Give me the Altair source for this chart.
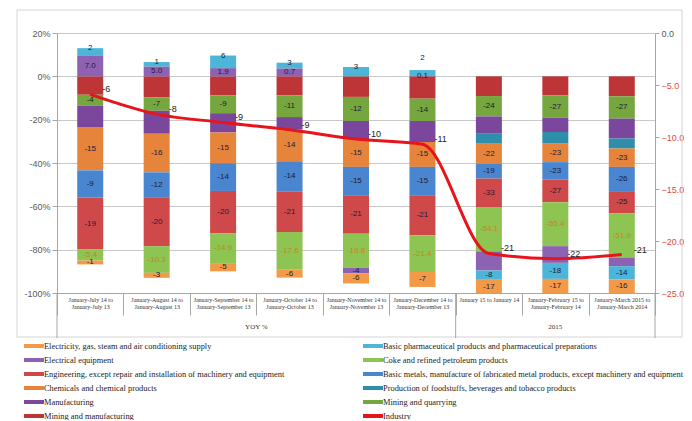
import altair as alt
import pandas as pd

periods = [
    "January-July 14 to|January-July 13",
    "January-August 14 to|January-August 13",
    "January-September 14 to|January-September 13",
    "January-October 14 to|January-October 13",
    "January-November 14 to|January-November 13",
    "January-December 14 to|January-December 13",
    "January 15 to January 14",
    "January-February 15 to|January-February 14",
    "January-March 2015 to|January-March 2014",
]

# stacking order, from the zero line outwards
stack_order = [
    "Mining and manufacturing",
    "Mining and quarrying",
    "Manufacturing",
    "Production of foodstuffs, beverages and tobacco products",
    "Chemicals and chemical products",
    "Basic metals, manufacture of fabricated metal products, except machinery and equipment",
    "Engineering, except repair and installation of machinery and equipment",
    "Coke and refined petroleum products",
    "Electrical equipment",
    "Basic pharmaceutical products and pharmaceutical preparations",
    "Electricity, gas, steam and air conditioning supply",
]

# share of each bar (%)
share_mm = [-8.5, -9.7, -8.8, -8.8, -9.5, -10.3, -9.1, -8.8, -9.2]
share_mq = [-5.1, -6.2, -8.2, -10.0, -11.1, -10.3, -9.4, -10.3, -10.3]
share_manuf = [-9.8, -10.6, -8.9, -5.8, -8.6, -9.7, -7.7, -6.6, -9.2]
share_food = [None, None, None, None, None, None, -4.9, -5.1, -4.6]
share_chem = [-20.0, -17.8, -14.2, -14.6, -12.6, -11.5, -9.2, -8.8, -8.5]
share_metals = [-12.6, -11.8, -12.8, -13.8, -13.1, -13.1, -6.9, -8.0, -11.2]
share_eng = [-23.9, -22.3, -19.5, -18.9, -17.7, -18.5, -13.1, -10.5, -10.3]
share_coke = [-5.1, -12.3, -13.8, -17.2, -15.8, -16.9, -20.5, -20.3, -20.5]
share_eleq = [9.4, 4.6, 3.8, 3.7, -2.6, 0.1, -8.8, -7.7, -3.8]
share_pharma = [3.6, 2.0, 5.8, 2.6, 4.3, 2.8, -4.3, -7.4, -6.2]
share_elec = [-1.8, -2.3, -3.8, -3.8, -4.6, -6.9, -6.2, -6.5, -6.2]

# printed value labels
lab_mm = [""] * 9
lab_mq = ["-4", "-7", "-9", "-11", "-12", "-14", "-24", "-27", "-27"]
lab_manuf = [""] * 9
lab_food = [""] * 9
lab_chem = ["-15", "-16", "-15", "-14", "-15", "-15", "-22", "-23", "-23"]
lab_metals = ["-9", "-12", "-14", "-14", "-15", "-15", "-19", "-23", "-26"]
lab_eng = ["-19", "-20", "-20", "-21", "-21", "-21", "-33", "-27", "-25"]
lab_coke = ["-5.4", "-10.3", "-14.9", "-17.6", "-19.8", "-21.4", "-54.1", "-55.4", "-51.9"]
lab_eleq = ["7.0", "5.0", "1.9", "0.7", "-4", "0.1", "", "", ""]
lab_pharma = ["2", "1", "6", "3", "3", "2", "-8", "-18", "-14"]
lab_elec = ["-1", "-3", "-5", "-6", "-6", "-7", "-17", "-17", "-16"]

shares = [share_mm, share_mq, share_manuf, share_food, share_chem, share_metals,
          share_eng, share_coke, share_eleq, share_pharma, share_elec]
labels = [lab_mm, lab_mq, lab_manuf, lab_food, lab_chem, lab_metals,
          lab_eng, lab_coke, lab_eleq, lab_pharma, lab_elec]

industry = [-5.9, -7.8, -8.6, -9.3, -10.2, -10.7, -21.2, -21.7, -21.3]
industry_labels = ["-6", "-8", "-9", "-9", "-10", "-11", "-21", "-22", "-21"]

legend_order = [
    "Electricity, gas, steam and air conditioning supply",
    "Basic pharmaceutical products and pharmaceutical preparations",
    "Electrical equipment",
    "Coke and refined petroleum products",
    "Engineering, except repair and installation of machinery and equipment",
    "Basic metals, manufacture of fabricated metal products, except machinery and equipment",
    "Chemicals and chemical products",
    "Production of foodstuffs, beverages and tobacco products",
    "Manufacturing",
    "Mining and quarrying",
    "Mining and manufacturing",
    "Industry",
]
legend_colors = [
    "#F39A48", "#4DB6D8", "#8E62B2", "#8DC452", "#D0494A", "#4A85D0",
    "#E5843A", "#2F8EAA", "#7A479C", "#76A63E", "#BE3538", "#E8141B",
]

group_names = ["YOY %", "2015"]

rows = []
for k, s in enumerate(stack_order):
    for i, p in enumerate(periods):
        v = shares[k][i]
        if v is None:
            continue
        rows.append({"period": p, "series": s, "ord": k, "share": v, "label": labels[k][i]})
df = pd.DataFrame(rows)

line_df = pd.DataFrame({"period": periods, "industry": industry, "ilabel": industry_labels})

SERIF = "Liberation Serif"
SANS = "Liberation Sans"
PHARMA = "Basic pharmaceutical products and pharmaceutical preparations"
COKE = "Coke and refined petroleum products"

x_axis = alt.Axis(
    title=None, labelExpr="split(datum.label, '|')", labelAngle=0,
    labelFont=SERIF, labelFontSize=6, labelColor="#333333", labelLineHeight=7,
    labelLimit=80, tickBand="extent", tickSize=22, labelPadding=-19,
    tickColor="#A6A6A6", domainColor="#A6A6A6",
)
x_enc = alt.X("period:N", sort=periods, scale=alt.Scale(paddingInner=0, paddingOuter=0), axis=x_axis)
x_plain = alt.X("period:N", sort=periods)

y_scale = alt.Scale(domain=[-100, 20], nice=False, zero=False)

base = alt.Chart(df).transform_stack(
    stack="share", groupby=["period"], as_=["y0", "y1"],
    sort=[alt.SortField("ord", order="ascending")],
).transform_calculate(mid="(datum.y0 + datum.y1) / 2")

bars = base.mark_bar(size=26).encode(
    x=x_enc,
    y=alt.Y("y0:Q", scale=y_scale, axis=alt.Axis(
        title=None, values=[20, 0, -20, -40, -60, -80, -100], labelExpr="datum.value + '%'",
        grid=True, gridColor="#C8C8C8", domainColor="#A6A6A6", tickColor="#A6A6A6",
        labelColor="#595959", labelFont=SANS, labelFontSize=9, tickSize=5)),
    y2="y1:Q",
    color=alt.Color("series:N", scale=alt.Scale(domain=legend_order, range=legend_colors),
                    legend=alt.Legend(
                        title=None, orient="none", legendX=-33, legendY=306, columns=2,
                        direction="horizontal", columnPadding=78, rowPadding=0, clipHeight=13.8,
                        symbolType="M-1,-0.2H1V0.2H-1Z", symbolSize=400, symbolStrokeWidth=0,
                        labelFont=SERIF, labelFontSize=8.4, labelColor="#222222", labelLimit=400,
                        labelOffset=0)),
)

special = f"datum.series == '{PHARMA}' && datum.period == '" + periods[5] + "'"
top_pharma = f"datum.series == '{PHARMA}' && datum.share > 0 && !({special})"

dark_labels = base.transform_filter(
    f"datum.label != '' && datum.series != '{COKE}' && !({top_pharma}) && !({special})"
).mark_text(font=SANS, fontSize=8, color="#1B1B3A").encode(
    x=x_plain, y=alt.Y("mid:Q", scale=y_scale), text="label:N")

pharma_labels = base.transform_filter(top_pharma).mark_text(
    font=SANS, fontSize=8, color="#1B1B3A", baseline="bottom", dy=4).encode(
    x=x_plain, y=alt.Y("y1:Q", scale=y_scale), text="label:N")

coke_labels = base.transform_filter(f"datum.series == '{COKE}'").mark_text(
    font=SANS, fontSize=8, color="#C8841E").encode(
    x=x_plain, y=alt.Y("mid:Q", scale=y_scale), text="label:N")

top_label = base.transform_filter(special).mark_text(
    font=SANS, fontSize=8, color="#1B1B3A", dy=-12).encode(
    x=x_plain, y=alt.Y("y1:Q", scale=y_scale), text="label:N")

sep_df = pd.DataFrame({"period": [periods[0], periods[6]]})
sep_start = alt.Chart(sep_df).mark_rule(color="#A6A6A6").encode(
    x=alt.X("period:N", sort=periods, bandPosition=0), y=alt.value(260), y2=alt.value(305))
sep_end = alt.Chart(pd.DataFrame({"period": [periods[8]]})).mark_rule(color="#A6A6A6").encode(
    x=alt.X("period:N", sort=periods, bandPosition=1), y=alt.value(260), y2=alt.value(305))

g1 = alt.Chart(pd.DataFrame({"period": [periods[3]], "g": [group_names[0]]})).mark_text(
    font=SERIF, fontSize=7, color="#333333").encode(
    x=alt.X("period:N", sort=periods, bandPosition=0), y=alt.value(294), text="g:N")
g2 = alt.Chart(pd.DataFrame({"period": [periods[7]], "g": [group_names[1]]})).mark_text(
    font=SERIF, fontSize=7, color="#333333").encode(
    x=x_plain, y=alt.value(294), text="g:N")

frame = alt.Chart(pd.DataFrame({"f": [0]})).mark_rect(
    fill=None, stroke="#D4D4D4", strokeWidth=1).encode(
    x=alt.value(-40), x2=alt.value(625), y=alt.value(-23), y2=alt.value(304))

left = alt.layer(frame, bars, dark_labels, pharma_labels, coke_labels, top_label,
                 sep_start, sep_end, g1, g2)

r_scale = alt.Scale(domain=[-25, 0], nice=False, zero=False)
line = alt.Chart(line_df).mark_line(color="#E8141B", strokeWidth=3, interpolate="monotone").encode(
    x=x_plain,
    y=alt.Y("industry:Q", scale=r_scale, axis=alt.Axis(
        orient="right", title=None, values=[0, -5, -10, -15, -20, -25], format=".1f",
        grid=False, domainColor="#A6A6A6", tickColor="#A6A6A6", tickSize=4,
        labelColor={"condition": {"test": "datum.value == 0", "value": "#595959"}, "value": "#E0473F"},
        labelFont=SANS, labelFontSize=9)),
)
line_labels = alt.Chart(line_df).mark_text(
    font=SANS, fontSize=9, color="#1B1B1B", align="left", dx=12, dy=-5).encode(
    x=x_plain, y=alt.Y("industry:Q", scale=r_scale), text="ilabel:N")

right = alt.layer(line, line_labels)

chart = alt.layer(left, right).resolve_scale(y="independent").properties(
    width=598, height=260,
    autosize=alt.AutoSizeParams(type="none"),
    padding={"left": 49, "top": 25, "right": 29, "bottom": 127},
    background="white",
).configure_view(stroke=None)

chart.save("out.html", embed_options={"renderer": "svg", "actions": False})
